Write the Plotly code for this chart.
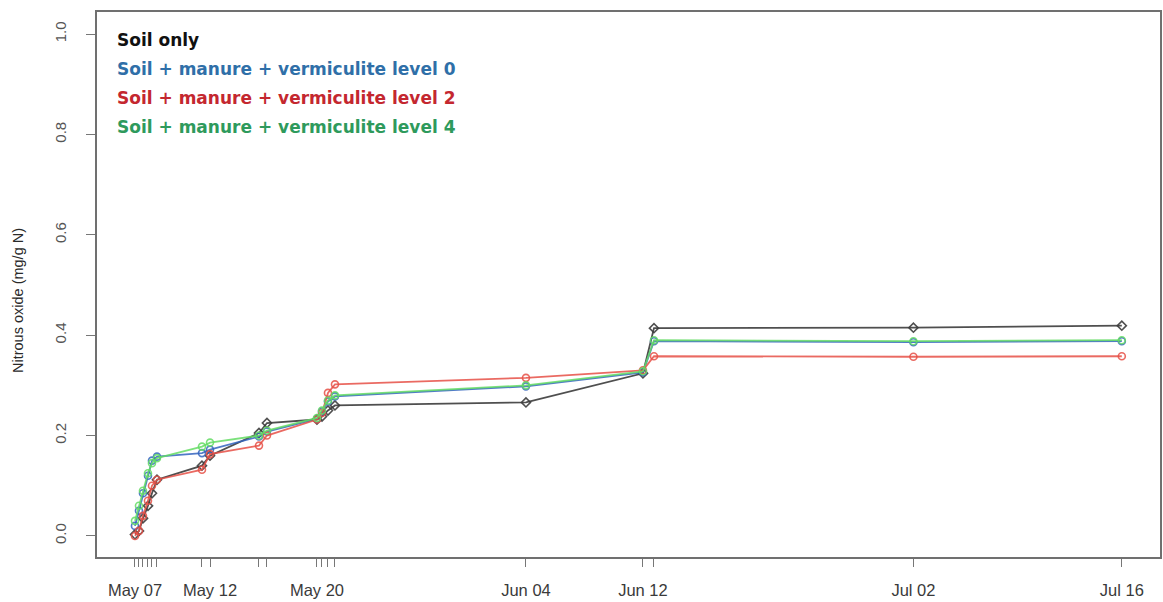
import plotly.graph_objects as go

# Sampling times (x axis, datetime)
times = [
    "2013-05-07 11:30", "2013-05-07 18:20", "2013-05-08 01:10", "2013-05-08 09:45",
    "2013-05-08 16:35", "2013-05-09 01:10", "2013-05-12 06:15", "2013-05-12 20:00",
    "2013-05-16 07:55", "2013-05-16 21:35", "2013-05-20 11:15", "2013-05-20 19:50",
    "2013-05-21 06:05", "2013-05-21 18:05", "2013-06-04 09:15", "2013-06-12 17:40",
    "2013-06-13 12:35", "2013-07-02 01:00", "2013-07-16 22:00",
]
tick_labels = ["May 07", "", "", "", "", "", "", "May 12", "", "", "May 20", "", "", "",
               "Jun 04", "Jun 12", "", "Jul 02", "Jul 16"]

# Cumulative nitrous oxide (mg/g N)
soil_only = [0.003, 0.010, 0.035, 0.060, 0.085, 0.112, 0.140, 0.160, 0.205, 0.225,
             0.232, 0.238, 0.250, 0.260, 0.266, 0.324, 0.414, 0.415, 0.419]
level0 = [0.020, 0.050, 0.085, 0.120, 0.150, 0.158, 0.165, 0.172, 0.198, 0.208,
          0.233, 0.248, 0.268, 0.278, 0.298, 0.326, 0.388, 0.386, 0.388]
level2 = [0.000, 0.010, 0.040, 0.070, 0.100, 0.112, 0.132, 0.163, 0.180, 0.200,
          0.232, 0.245, 0.285, 0.302, 0.315, 0.330, 0.358, 0.357, 0.358]
level4 = [0.030, 0.060, 0.090, 0.125, 0.145, 0.155, 0.178, 0.186, 0.200, 0.210,
          0.235, 0.250, 0.270, 0.280, 0.300, 0.328, 0.390, 0.388, 0.390]

series_names = ["Soil only",
                "Soil + manure + vermiculite level 0",
                "Soil + manure + vermiculite level 2",
                "Soil + manure + vermiculite level 4"]
series_values = [soil_only, level0, level2, level4]
line_colors = ["rgba(60,60,60,0.9)", "rgba(50,100,190,0.85)", "rgba(230,80,70,0.85)", "rgba(100,220,100,0.85)"]
legend_colors = ["#111111", "#2f6fa8", "#c4272f", "#2e9a5c"]
symbols = ["diamond-open", "circle-open", "circle-open", "circle-open"]

fig = go.Figure()
for name, vals, lc, sym in zip(series_names, series_values, line_colors, symbols):
    fig.add_trace(go.Scatter(
        x=times, y=vals, mode="lines+markers", name=name,
        line=dict(color=lc, width=1.8),
        marker=dict(symbol=sym, size=7, color=lc, line=dict(width=1.6, color=lc)),
        showlegend=False,
    ))

# Legend as coloured text
leg_y_px = [40, 69, 98, 127]
for name, col, ypx in zip(series_names, legend_colors, leg_y_px):
    fig.add_annotation(
        x=(115 - 97) / 1063, y=(557 - ypx) / 545, xref="paper", yref="paper",
        text="<b>" + name + "</b>", showarrow=False, xanchor="left", yanchor="middle",
        font=dict(family="DejaVu Sans", size=17, color=col),
    )

# Y-axis title
fig.add_annotation(
    x=(18 - 97) / 1063, y=(557 - 301) / 545, xref="paper", yref="paper",
    text="Nitrous oxide (mg/g N)", textangle=-90, showarrow=False,
    xanchor="center", yanchor="middle",
    font=dict(family="Liberation Sans, Arial", size=14.5, color="#2a2a2a"),
)

fig.update_layout(
    width=1163, height=602,
    margin=dict(l=97, r=3, t=12, b=45, autoexpand=False),
    paper_bgcolor="white", plot_bgcolor="white",
    xaxis=dict(
        type="date", automargin=False,
        range=["2013-05-04 18:25", "2013-07-19 15:25"],
        tickmode="array", tickvals=times, ticktext=tick_labels,
        ticks="outside", ticklen=8, tickwidth=1, tickcolor="#777777",
        showgrid=False, zeroline=False,
        showline=True, mirror=True, linecolor="#707070", linewidth=2,
        tickfont=dict(family="Liberation Sans, Arial", size=16.5, color="#3a3a3a"),
        ticklabelstandoff=9,
    ),
    yaxis=dict(
        automargin=False,
        range=[-0.042, 1.044],
        tickmode="array", tickvals=[0, 0.2, 0.4, 0.6, 0.8, 1.0],
        ticktext=["0.0", "0.2", "0.4", "0.6", "0.8", "1.0"],
        tickangle=-90,
        ticks="outside", ticklen=9, tickwidth=1, tickcolor="#777777",
        showgrid=False, zeroline=False,
        showline=True, mirror=True, linecolor="#707070", linewidth=2,
        tickfont=dict(family="Liberation Sans, Arial", size=15, color="#555555"),
        ticklabelstandoff=14,
    ),
)

fig.write_html(
    "out.html",
    config={"displayModeBar": False},
    post_script="document.body.style.margin='0';document.body.style.padding='0';document.body.style.overflow='hidden';",
)
